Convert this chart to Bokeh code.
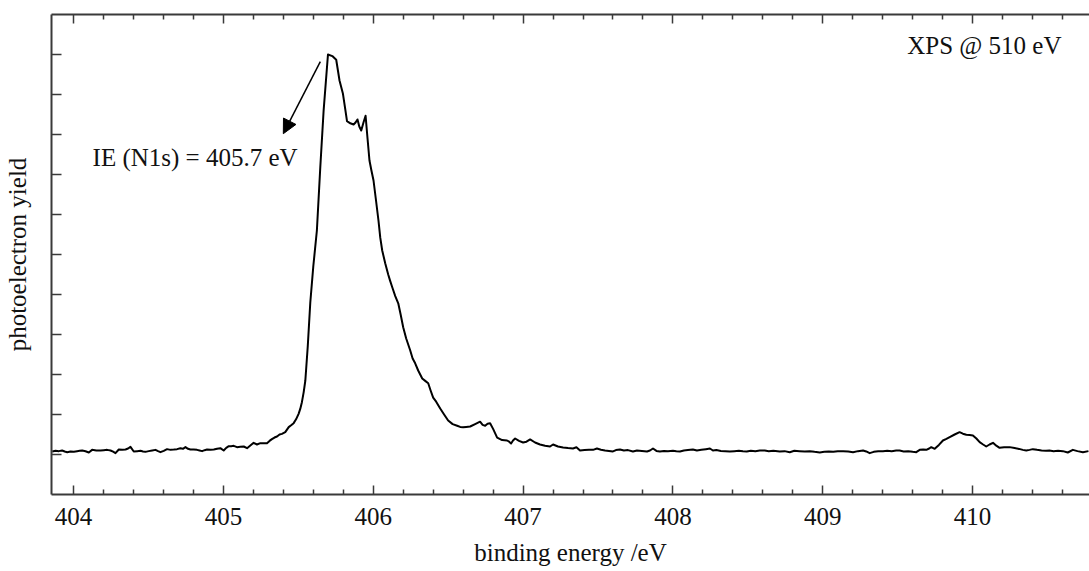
from bokeh.plotting import figure
from bokeh.models import Range1d, FixedTicker, LinearAxis, Arrow, NormalHead, Label, ColumnDataSource
from bokeh.embed import file_html
from bokeh.resources import INLINE

# ---------------- data ----------------
# pre-edge baseline
e_pre = [403.858, 403.880, 403.902, 403.924, 403.941, 403.958, 403.980, 404.002, 404.024, 404.041,
         404.058, 404.080, 404.102, 404.124, 404.152, 404.180, 404.202, 404.224, 404.247, 404.264,
         404.280, 404.302, 404.325, 404.347, 404.364, 404.380, 404.402, 404.425, 404.447, 404.464,
         404.480, 404.502, 404.525, 404.547, 404.564, 404.580, 404.602, 404.624, 404.647, 404.669,
         404.691, 404.713, 404.730, 404.747, 404.764, 404.780, 404.802, 404.824, 404.841, 404.858,
         404.875, 404.891, 404.914, 404.936, 404.958, 404.980, 405.002, 405.019, 405.036, 405.052,
         405.069, 405.091, 405.113, 405.136, 405.158, 405.180, 405.202]
y_pre = [0.038, 0.046, 0.042, 0.050, 0.038, 0.029, 0.038, 0.035, 0.042, 0.046,
         0.050, 0.040, 0.025, 0.058, 0.050, 0.050, 0.054, 0.058, 0.050, 0.035,
         0.017, 0.062, 0.058, 0.062, 0.075, 0.096, 0.038, 0.042, 0.046, 0.038,
         0.033, 0.042, 0.050, 0.058, 0.042, 0.029, 0.046, 0.067, 0.058, 0.062,
         0.067, 0.079, 0.071, 0.092, 0.071, 0.062, 0.062, 0.058, 0.050, 0.042,
         0.054, 0.062, 0.058, 0.062, 0.071, 0.079, 0.050, 0.083, 0.104, 0.104,
         0.108, 0.092, 0.096, 0.100, 0.079, 0.112, 0.146]

# rising edge and main N1s peak
e_peak = [405.224, 405.247, 405.270, 405.291, 405.308, 405.324, 405.341, 405.358, 405.375, 405.391,
          405.413, 405.436, 405.452, 405.469, 405.485, 405.502, 405.513, 405.524, 405.536, 405.547,
          405.563, 405.580, 405.600, 405.624, 405.647, 405.669, 405.698, 405.727, 405.753, 405.775,
          405.798, 405.813, 405.825, 405.847, 405.869, 405.882, 405.895, 405.907, 405.920, 405.935,
          405.949, 405.962, 405.975, 405.988, 406.002]
y_peak = [0.125, 0.142, 0.140, 0.142, 0.170, 0.192, 0.212, 0.225, 0.250, 0.258,
          0.279, 0.342, 0.365, 0.392, 0.440, 0.508, 0.570, 0.654, 0.780, 0.925,
          1.350, 1.900, 2.350, 2.800, 3.600, 4.300, 5.000, 4.980, 4.934, 4.675,
          4.509, 4.320, 4.166, 4.140, 4.125, 4.150, 4.188, 4.100, 4.050, 4.150,
          4.234, 3.950, 3.675, 3.550, 3.425]

# high-energy tail
e_tail = [406.017, 406.035, 406.047, 406.060, 406.080, 406.100, 406.113, 406.127, 406.147, 406.167,
          406.183, 406.200, 406.220, 406.247, 406.263, 406.280, 406.300, 406.327, 406.347, 406.367,
          406.383, 406.400, 406.420, 406.447, 406.473, 406.500, 406.530, 406.560, 406.580, 406.600,
          406.620, 406.647, 406.680, 406.713, 406.730, 406.747, 406.763, 406.780, 406.800, 406.827,
          406.860, 406.893, 406.907, 406.920, 406.933, 406.947, 406.973, 407.000]
y_tail = [3.200, 2.925, 2.710, 2.550, 2.390, 2.250, 2.170, 2.090, 1.980, 1.890,
          1.750, 1.590, 1.450, 1.300, 1.200, 1.140, 1.050, 0.950, 0.920, 0.890,
          0.800, 0.710, 0.660, 0.575, 0.500, 0.425, 0.380, 0.360, 0.345, 0.340,
          0.345, 0.350, 0.380, 0.410, 0.370, 0.360, 0.385, 0.390, 0.320, 0.210,
          0.180, 0.175, 0.160, 0.138, 0.175, 0.200, 0.170, 0.150]

# flat region between the peaks
e_flat = [407.023, 407.047, 407.080, 407.113, 407.147, 407.180, 407.200, 407.233, 407.267, 407.300,
          407.333, 407.356, 407.380, 407.410, 407.440, 407.467, 407.493, 407.520, 407.547, 407.573,
          407.600, 407.620, 407.647, 407.673, 407.700, 407.733, 407.760, 407.793, 407.827, 407.847,
          407.867, 407.890, 407.913, 407.940, 407.967, 408.000, 408.023, 408.047, 408.073, 408.100,
          408.133, 408.160, 408.190, 408.220, 408.247, 408.267, 408.290, 408.320, 408.350, 408.380,
          408.410, 408.440, 408.467, 408.493, 408.520, 408.550, 408.580, 408.613, 408.640, 408.670,
          408.713, 408.745, 408.780, 408.810, 408.845, 408.880, 408.913, 408.945, 408.980, 409.010,
          409.040, 409.070, 409.100, 409.136, 409.170, 409.202, 409.235, 409.269, 409.290, 409.313,
          409.340, 409.370, 409.402, 409.430, 409.460, 409.490, 409.513, 409.540, 409.570, 409.600,
          409.624]
y_flat = [0.160, 0.188, 0.150, 0.125, 0.110, 0.100, 0.125, 0.100, 0.088, 0.080,
          0.075, 0.090, 0.050, 0.055, 0.060, 0.058, 0.075, 0.060, 0.050, 0.045,
          0.038, 0.055, 0.062, 0.050, 0.055, 0.038, 0.050, 0.045, 0.038, 0.050,
          0.075, 0.045, 0.038, 0.045, 0.042, 0.046, 0.040, 0.038, 0.050, 0.055,
          0.062, 0.050, 0.058, 0.067, 0.075, 0.050, 0.055, 0.045, 0.042, 0.038,
          0.042, 0.046, 0.040, 0.038, 0.046, 0.042, 0.050, 0.050, 0.042, 0.046,
          0.038, 0.042, 0.029, 0.046, 0.042, 0.038, 0.042, 0.033, 0.025, 0.033,
          0.038, 0.033, 0.042, 0.042, 0.038, 0.029, 0.042, 0.050, 0.038, 0.017,
          0.033, 0.042, 0.042, 0.046, 0.042, 0.050, 0.050, 0.038, 0.042, 0.033,
          0.029]

# small satellite near 410 eV and end of scan
e_sat = [409.647, 409.670, 409.691, 409.710, 409.724, 409.747, 409.775, 409.802, 409.825, 409.847,
         409.880, 409.913, 409.935, 409.958, 409.980, 410.002, 410.025, 410.047, 410.070, 410.091,
         410.113, 410.136, 410.158, 410.180, 410.210, 410.247, 410.280, 410.310, 410.335, 410.358,
         410.380, 410.402, 410.430, 410.460, 410.490, 410.513, 410.540, 410.570, 410.602, 410.635,
         410.669, 410.700, 410.736, 410.773]
y_sat = [0.058, 0.062, 0.058, 0.075, 0.092, 0.071, 0.120, 0.175, 0.195, 0.217,
         0.250, 0.279, 0.260, 0.246, 0.243, 0.238, 0.200, 0.154, 0.125, 0.100,
         0.125, 0.146, 0.110, 0.083, 0.090, 0.092, 0.080, 0.070, 0.058, 0.050,
         0.058, 0.067, 0.058, 0.050, 0.046, 0.050, 0.042, 0.046, 0.042, 0.025,
         0.058, 0.042, 0.029, 0.042]

x_major_ticks = [404, 405, 406, 407, 408, 409, 410]
x_minor_ticks = [403.8, 404.2, 404.4, 404.6, 404.8, 405.2, 405.4, 405.6, 405.8, 406.2, 406.4, 406.6,
                 406.8, 407.2, 407.4, 407.6, 407.8, 408.2, 408.4, 408.6, 408.8, 409.2, 409.4, 409.6,
                 409.8, 410.2, 410.4, 410.6]
y_ticks = [0.0, 0.5, 1.0, 1.5, 2.0, 2.5, 3.0, 3.5, 4.0, 4.5, 5.0]

x_label = "binding energy /eV"
y_label = "photoelectron yield"
peak_note = "IE (N1s) = 405.7 eV"
source_note = "XPS @ 510 eV"

# ---------------- figure ----------------
energy = e_pre + e_peak + e_tail + e_flat + e_sat
yld = y_pre + y_peak + y_tail + y_flat + y_sat
src = ColumnDataSource(dict(x=energy, y=yld))

FONT = "Liberation Serif"
FS = "25px"
AX = "#3a3a3a"
TXT = "#111111"

p = figure(frame_width=1038, frame_height=480,
           x_range=Range1d(403.853, 410.78), y_range=Range1d(-0.5, 5.5),
           output_backend="svg", toolbar_location=None,
           min_border_left=51, min_border_right=0, min_border_top=14, min_border_bottom=77)
p.xgrid.visible = False
p.ygrid.visible = False
p.outline_line_color = None
p.background_fill_color = "white"
p.border_fill_color = "white"

xa = p.xaxis[0]
xa.ticker = FixedTicker(ticks=x_major_ticks, minor_ticks=x_minor_ticks)
xa.axis_line_color = AX
xa.axis_line_width = 2
xa.major_tick_line_color = AX
xa.major_tick_line_width = 1.5
xa.minor_tick_line_color = AX
xa.minor_tick_line_width = 1.5
xa.major_tick_in = 9
xa.major_tick_out = 0
xa.minor_tick_in = 5
xa.minor_tick_out = 0
xa.major_label_text_font = FONT
xa.major_label_text_font_size = FS
xa.major_label_text_color = TXT
xa.major_label_standoff = 13
xa.axis_label = x_label
xa.axis_label_text_font = FONT
xa.axis_label_text_font_size = FS
xa.axis_label_text_font_style = "normal"
xa.axis_label_text_color = TXT
xa.axis_label_standoff = 11

ya = p.yaxis[0]
ya.ticker = FixedTicker(ticks=y_ticks, minor_ticks=[])
ya.axis_line_color = AX
ya.axis_line_width = 2
ya.major_tick_line_color = AX
ya.major_tick_line_width = 1.5
ya.major_tick_in = 10
ya.major_tick_out = 0
ya.minor_tick_line_color = None
ya.major_label_text_font_size = "1px"
ya.major_label_text_color = None
ya.major_label_standoff = 0
ya.axis_label = y_label
ya.axis_label_text_font = FONT
ya.axis_label_text_font_size = FS
ya.axis_label_text_font_style = "normal"
ya.axis_label_text_color = TXT
ya.axis_label_standoff = 21

top = LinearAxis(ticker=FixedTicker(ticks=x_major_ticks, minor_ticks=x_minor_ticks),
                 axis_line_color=AX, axis_line_width=2,
                 major_tick_line_color=AX, major_tick_line_width=1.5,
                 minor_tick_line_color=AX, minor_tick_line_width=1.5,
                 major_tick_in=9, major_tick_out=0, minor_tick_in=5, minor_tick_out=0,
                 major_label_text_font_size="1px", major_label_text_color=None,
                 major_label_standoff=0)
p.add_layout(top, "above")

p.line("x", "y", source=src, line_color="black", line_width=2, line_join="round")

p.add_layout(Arrow(end=NormalHead(size=14, fill_color="black", line_color="black"),
                   x_start=405.647, y_start=4.91, x_end=405.40, y_end=4.01,
                   line_color="black", line_width=1.5))

p.add_layout(Label(x=404.127, y=3.71, text=peak_note, text_font=FONT, text_font_size=FS,
                   text_baseline="middle", text_align="left", text_color=TXT))
p.add_layout(Label(x=410.593, y=5.11, text=source_note, text_font=FONT, text_font_size=FS,
                   text_baseline="middle", text_align="right", text_color=TXT))

open("out.html", "w").write(file_html(p, INLINE))
